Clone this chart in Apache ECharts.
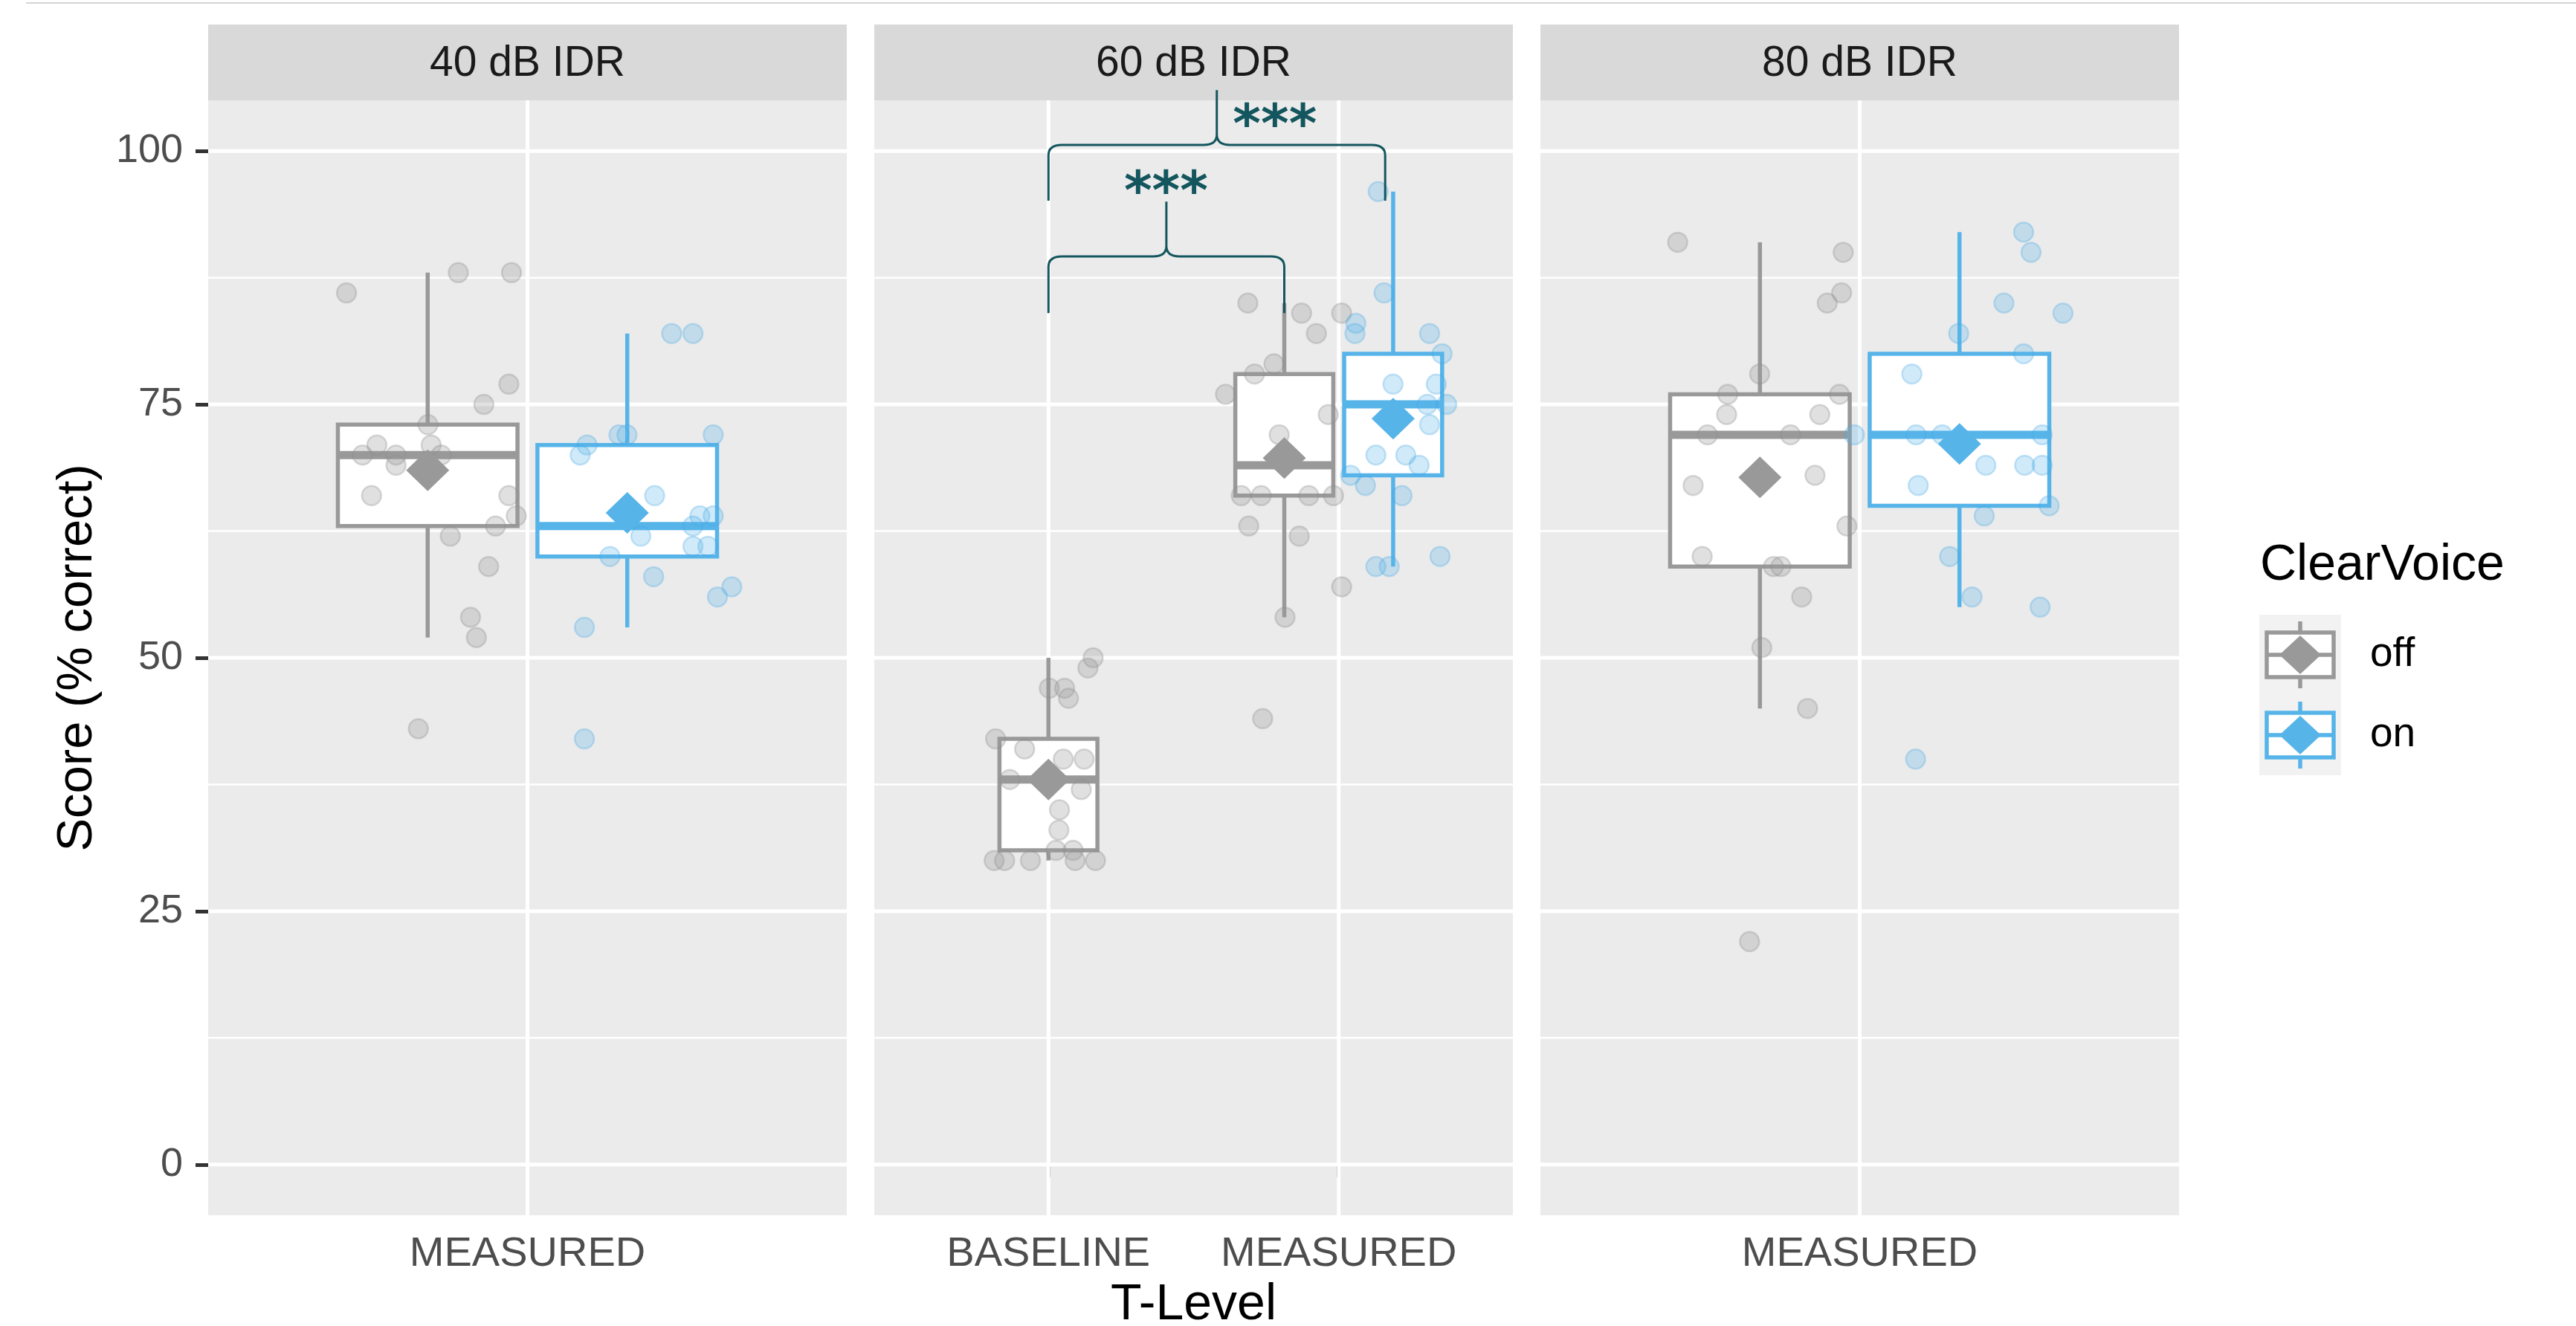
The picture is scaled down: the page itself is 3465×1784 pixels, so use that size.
<!DOCTYPE html>
<html>
<head>
<meta charset="utf-8">
<script src="https://cdn.jsdelivr.net/npm/echarts@6/dist/echarts.min.js"></script>
<style>
  html, body { margin: 0; padding: 0; background: #fff; }
  #chart { width: 3465px; height: 1784px; }
</style>
</head>
<body>
<div id="chart"></div>
<script>
// facets and x levels
var panelNames = ["40 dB IDR", "60 dB IDR", "80 dB IDR"];
var panelLevels = [["MEASURED"], ["BASELINE", "MEASURED"], ["MEASURED"]];
var yTicks = [0, 25, 50, 75, 100];
var yMinor = [12.5, 37.5, 62.5, 87.5];
var groupNames = ["off", "on"];

// box stats: [panel, level, min, q1, median, q3, max]
var boxOff = [
  [0, 1, 52, 63, 70, 73, 88],
  [1, 1, 30, 31, 38, 42, 50],
  [1, 2, 54, 66, 69, 78, 85],
  [2, 1, 45, 59, 72, 76, 91]
];
var boxOn = [
  [0, 1, 53, 60, 63, 71, 82],
  [1, 2, 59, 68, 75, 80, 96],
  [2, 1, 55, 65, 72, 80, 92]
];
// means, same order as the box rows
var meanOff = [68.5, 38.0, 69.7, 67.8];
var meanOn = [64.3, 73.6, 71.1];

// jittered points [x, score]
var off40 = [[0.66,86],[0.87,88],[0.97,88],[0.965,77],[0.918,75],[0.813,73],[0.717,71],[0.819,71],[0.69,70],[0.753,70],[0.838,70],[0.753,69],[0.707,66],[0.965,66],[0.979,64],[0.94,63],[0.855,62],[0.927,59],[0.893,54],[0.904,52],[0.795,43]];
var on40 = [[1.271,82],[1.311,82],[1.172,72],[1.187,72],[1.349,72],[1.112,71],[1.099,70],[1.239,66],[1.324,64],[1.349,64],[1.311,63],[1.213,62],[1.311,61],[1.339,61],[1.155,60],[1.237,58],[1.384,57],[1.357,56],[1.107,53],[1.107,42]];
var offBase60 = [[1.154,50],[1.136,49],[1.003,47],[1.056,47],[1.069,46],[0.818,42],[0.918,41],[1.051,40],[1.123,40],[0.867,38],[1.113,37],[1.038,35],[1.036,33],[1.026,31],[1.085,31],[0.813,30],[0.849,30],[0.938,30],[1.092,30],[1.162,30]];
var off60 = [[1.687,85],[1.872,84],[2.010,84],[1.923,82],[1.777,79],[1.710,78],[1.610,76],[1.964,74],[1.795,72],[1.664,66],[1.733,66],[1.897,66],[1.982,66],[1.690,63],[1.864,62],[2.010,57],[1.815,54],[1.738,44]];
var on60 = [[2.136,96],[2.156,86],[2.059,83],[2.056,82],[2.313,82],[2.356,80],[2.187,77],[2.336,77],[2.305,75],[2.372,75],[2.313,73],[2.128,70],[2.231,70],[2.277,69],[2.041,68],[2.092,67],[2.218,66],[2.128,59],[2.174,59],[2.349,60]];
var off80 = [[0.658,91],[0.969,90],[0.966,86],[0.939,85],[0.812,78],[0.752,76],[0.962,76],[0.750,74],[0.925,74],[0.714,72],[0.870,72],[0.687,67],[0.916,68],[0.976,63],[0.704,60],[0.838,59],[0.852,59],[0.891,56],[0.816,51],[0.902,45],[0.793,22]];
var on80 = [[1.308,92],[1.322,90],[1.271,85],[1.382,84],[1.186,82],[1.308,80],[1.098,78],[0.990,72],[1.106,72],[1.155,72],[1.343,72],[1.237,69],[1.310,69],[1.343,69],[1.110,67],[1.356,65],[1.234,64],[1.169,60],[1.211,56],[1.339,55],[1.105,40]];
var pointsOff = [off40, offBase60.concat(off60), off80];
var pointsOn = [on40, on60, on80];

// significance braces (60 dB panel): [xLeft, xRight, legEnd, bar, tip, labelX, labelY, label]
var braces = [
  [1.0, 1.8125, 84, 89.6, 95, 1.405, 96.8, "***"],
  [1.0, 2.16, 95.1, 100.6, 106, 1.78, 103.4, "***"]
];

var GRAY = "#999999", BLUE = "#56B4E9", TEAL = "#14565e";
var FONT = "Liberation Sans";
var GRID_LEFT = [280, 1176, 2072], GRID_W = 859, GRID_TOP = 135, GRID_H = 1500;
var DODGE = 0.1875, BOX_W = 0.3375;

function hasBox(list, p, l) {
  return list.some(function (b) { return b[0] === p && b[1] === l; });
}
function boxX(p, l, group) {
  if (!(hasBox(boxOff, p, l) && hasBox(boxOn, p, l))) return l;
  return l + (group === "off" ? -DODGE : DODGE);
}

function lineEl(x1, y1, x2, y2, color, w) {
  return { type: "line", shape: { x1: x1, y1: y1, x2: x2, y2: y2 },
    style: { stroke: color, lineWidth: w, lineCap: "butt" } };
}

function boxRenderer(color) {
  return function (params, api) {
    var x = api.value(0);
    var c = api.coord([x, api.value(3)]);
    var l = api.coord([x - BOX_W / 2, 0])[0];
    var r = api.coord([x + BOX_W / 2, 0])[0];
    var yMin = api.coord([x, api.value(1)])[1];
    var yQ1 = api.coord([x, api.value(2)])[1];
    var yQ3 = api.coord([x, api.value(4)])[1];
    var yMax = api.coord([x, api.value(5)])[1];
    return { type: "group", children: [
      lineEl(c[0], yMax, c[0], yQ3, color, 5.5),
      lineEl(c[0], yQ1, c[0], yMin, color, 5.5),
      { type: "rect", shape: { x: l, y: yQ3, width: r - l, height: yQ1 - yQ3 },
        style: { fill: "#ffffff", stroke: color, lineWidth: 5.5 } },
      lineEl(l, c[1], r, c[1], color, 11)
    ] };
  };
}

function hLineRenderer(width) {
  return function (params, api) {
    var cs = params.coordSys;
    var y = api.coord([1, api.value(0)])[1];
    return lineEl(cs.x, y, cs.x + cs.width, y, "#ffffff", width);
  };
}
function vLineRenderer(params, api) {
  var cs = params.coordSys;
  var x = api.coord([api.value(0), 50])[0];
  return lineEl(x, cs.y, x, cs.y + cs.height, "#ffffff", 5);
}

function braceRenderer(params, api) {
  var xl = api.coord([api.value(0), 0])[0];
  var xr = api.coord([api.value(1), 0])[0];
  var yLeg = api.coord([1, api.value(2)])[1];
  var yBar = api.coord([1, api.value(3)])[1];
  var yTip = api.coord([1, api.value(4)])[1];
  var xm = (xl + xr) / 2;
  var rx = 18, ry = 14;
  var d = "M" + xl + " " + yLeg + " L" + xl + " " + (yBar + ry) +
    " Q" + xl + " " + yBar + " " + (xl + rx) + " " + yBar +
    " L" + (xm - rx) + " " + yBar +
    " Q" + xm + " " + yBar + " " + xm + " " + (yBar - ry) +
    " L" + xm + " " + yTip +
    " M" + xm + " " + (yBar - ry) +
    " Q" + xm + " " + yBar + " " + (xm + rx) + " " + yBar +
    " L" + (xr - rx) + " " + yBar +
    " Q" + xr + " " + yBar + " " + xr + " " + (yBar + ry) +
    " L" + xr + " " + yLeg;
  var lab = api.coord([api.value(5), api.value(6)]);
  return { type: "group", children: [
    { type: "path", shape: { pathData: d }, style: { fill: null, stroke: TEAL, lineWidth: 3 } },
    { type: "text", x: lab[0], y: lab[1] + 15,
      style: { text: braces[params.dataIndex][7], fill: TEAL, font: "bold 72px 'DejaVu Sans'",
        align: "center", verticalAlign: "middle" } }
  ] };
}

var grids = [], xAxes = [], yAxes = [], series = [], graphics = [];

panelNames.forEach(function (name, p) {
  var levels = panelLevels[p];
  var ticks = levels.map(function (_, i) { return i + 1; });
  grids.push({ left: GRID_LEFT[p], top: GRID_TOP, width: GRID_W, height: GRID_H,
    show: true, backgroundColor: "#EBEBEB", borderWidth: 0 });
  xAxes.push({
    type: "value", gridIndex: p, min: 0.4, max: levels.length + 0.6,
    axisLine: { show: false }, splitLine: { show: false },
    axisTick: { show: true, customValues: ticks, length: 17, lineStyle: { color: "#333333", width: 5 } },
    axisLabel: { show: true, customValues: ticks, margin: 25, fontSize: 56, color: "#4D4D4D",
      fontFamily: FONT, formatter: function (v) { return levels[Math.round(v) - 1] || ""; } }
  });
  yAxes.push({
    type: "value", gridIndex: p, min: -5, max: 105,
    axisLine: { show: false }, splitLine: { show: false },
    axisTick: { show: p === 0, customValues: yTicks, length: 17, lineStyle: { color: "#333333", width: 5 } },
    axisLabel: { show: p === 0, customValues: yTicks, margin: 34, fontSize: 54, color: "#4D4D4D", fontFamily: FONT },
    name: p === 0 ? "Score (% correct)" : "", nameLocation: "middle", nameGap: 142, nameRotate: 90,
    nameTextStyle: { fontSize: 67, color: "#000000", fontFamily: FONT }
  });

  // panel grid lines
  series.push({ type: "custom", xAxisIndex: p, yAxisIndex: p, z: 1, silent: true,
    renderItem: hLineRenderer(2.5), data: yMinor.map(function (v) { return [v]; }) });
  series.push({ type: "custom", xAxisIndex: p, yAxisIndex: p, z: 1, silent: true,
    renderItem: hLineRenderer(5), data: yTicks.map(function (v) { return [v]; }) });
  series.push({ type: "custom", xAxisIndex: p, yAxisIndex: p, z: 1, silent: true,
    renderItem: vLineRenderer, data: ticks.map(function (v) { return [v]; }) });

  [["off", boxOff, meanOff, pointsOff, GRAY, "rgba(153,153,153,0.38)", "rgba(140,140,140,0.38)"],
   ["on", boxOn, meanOn, pointsOn, BLUE, "rgba(86,180,233,0.35)", "rgba(70,165,225,0.35)"]].forEach(function (g) {
    var rows = [], means = [];
    g[1].forEach(function (b, i) {
      if (b[0] !== p) return;
      var x = boxX(p, b[1], g[0]);
      rows.push([x, b[2], b[3], b[4], b[5], b[6]]);
      means.push([x, g[2][i]]);
    });
    if (!rows.length) return;
    series.push({ type: "custom", name: g[0], xAxisIndex: p, yAxisIndex: p, z: 2, silent: true,
      renderItem: boxRenderer(g[4]), encode: { x: 0, y: [1, 2, 3, 4, 5] }, data: rows });
    series.push({ type: "scatter", xAxisIndex: p, yAxisIndex: p, z: 3, silent: true,
      symbol: "circle", symbolSize: 26, data: g[3][p],
      itemStyle: { color: g[5], borderColor: g[6], borderWidth: 2.5 } });
    series.push({ type: "scatter", xAxisIndex: p, yAxisIndex: p, z: 4, silent: true,
      symbol: "diamond", symbolSize: [58, 56], data: means,
      itemStyle: { color: g[4], opacity: 1 } });
  });

  // strip
  graphics.push({ type: "rect", shape: { x: GRID_LEFT[p], y: 33, width: GRID_W, height: GRID_TOP - 33 },
    style: { fill: "#D9D9D9" }, z: 0 });
  graphics.push({ type: "text", x: GRID_LEFT[p] + GRID_W / 2, y: 86,
    style: { text: name, font: "57px " + FONT, fill: "#1A1A1A", align: "center", verticalAlign: "middle" } });
});

series.push({ type: "custom", xAxisIndex: 1, yAxisIndex: 1, z: 5, silent: true, clip: false,
  renderItem: braceRenderer, data: braces.map(function (b) { return b.slice(0, 7); }) });

// x axis title, centred under the panels
graphics.push({ type: "text", x: GRID_LEFT[1] + GRID_W / 2, y: 1756,
  style: { text: "T-Level", font: "68px " + FONT, fill: "#000000", align: "center", verticalAlign: "middle" } });

// legend
var LX = 3039, LY = 827, LW = 110, LH = 108;
graphics.push({ type: "text", x: 3040, y: 761,
  style: { text: "ClearVoice", font: "68px " + FONT, fill: "#000000", align: "left", verticalAlign: "middle" } });
graphics.push({ type: "rect", shape: { x: LX, y: LY, width: LW, height: LH * 2 }, style: { fill: "#F2F2F2" } });
[GRAY, BLUE].forEach(function (col, i) {
  var cx = LX + LW / 2, cy = LY + LH * (i + 0.5);
  graphics.push(lineEl(cx, cy - 45, cx, cy + 45, col, 5.5));
  graphics.push({ type: "rect", shape: { x: cx - 45, y: cy - 30, width: 90, height: 60 },
    style: { fill: "#ffffff", stroke: col, lineWidth: 5.5 } });
  graphics.push(lineEl(cx - 45, cy, cx + 45, cy, col, 5.5));
  graphics.push({ type: "polygon", shape: { points: [[cx, cy - 26], [cx + 28, cy], [cx, cy + 26], [cx - 28, cy]] },
    style: { fill: col } });
  graphics.push({ type: "text", x: 3188, y: cy,
    style: { text: groupNames[i], font: "55px " + FONT, fill: "#000000", align: "left", verticalAlign: "middle" } });
});
graphics.push(lineEl(35, 4, 3465, 4, "#D4D4D4", 2));

var chart = echarts.init(document.getElementById("chart"));
chart.setOption({
  animation: false,
  backgroundColor: "#ffffff",
  textStyle: { fontFamily: FONT },
  grid: grids,
  xAxis: xAxes,
  yAxis: yAxes,
  series: series,
  graphic: { elements: graphics }
});
</script>
</body>
</html>
